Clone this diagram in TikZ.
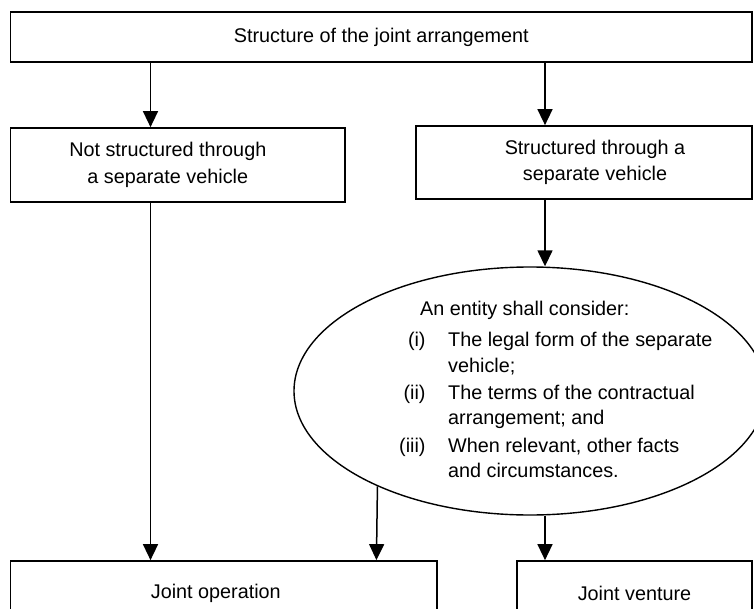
\documentclass[tikz,border=0pt]{standalone}
\usepackage{fontspec}
\setmainfont{Liberation Sans}
\usetikzlibrary{arrows.meta,shapes.geometric}
\begin{document}
\begin{tikzpicture}[x=1pt,y=-1pt,
  box/.style={draw, line width=1.7pt, rectangle, inner sep=0pt, align=center,
    font=\fontsize{19.8}{26.5}\selectfont},
  oval/.style={draw, ellipse, line width=1.4pt, inner sep=0pt},
  arr/.style={line width=1.5pt, -{Triangle[length=16pt,width=15pt]}},
  ]
\clip (0,0) rectangle (754,609);
\fill[white] (0,0) rectangle (754,609);

\node[box, minimum width=741.4pt, minimum height=50pt] (top) at (381.3,37)
  {Structure of the joint arrangement};
\node[box, minimum width=334.4pt, minimum height=74pt] (lbox) at (177.8,165)
  {\hspace*{-20pt}Not structured through\\\hspace*{-20pt}a separate vehicle};
\node[box, minimum width=336pt, minimum height=73pt] (rbox) at (584,162.5)
  {\hspace*{22pt}Structured through a\\\hspace*{22pt}separate vehicle};
\node[oval, minimum width=472pt, minimum height=248pt] (ell) at (530,391) {};
\node[anchor=base west, inner sep=0pt, font=\fontsize{19.8}{25}\selectfont] (crit) at (399,315)
  {\begin{tabular}[t]{@{}r@{\hspace{22.6pt}}l@{}}
   \multicolumn{2}{@{\hspace{21pt}}l@{}}{An entity shall consider:}\\[7pt]
   (i) & The legal form of the separate\\
       & vehicle;\\[2pt]
   (ii) & The terms of the contractual\\
       & arrangement; and\\[3pt]
   (iii) & When relevant, other facts\\
       & and circumstances.
   \end{tabular}};
\node[box, minimum width=426.4pt, minimum height=64pt] (jo) at (223.8,593)
  {\hspace*{-16pt}Joint operation};
\node[box, minimum width=235pt, minimum height=64pt] (jv) at (634.5,593)
  {Joint venture};

\coordinate (xl) at (150.5,0);
\coordinate (xr) at (545,0);

\draw[arr] (top.south -| xl) -- (lbox.north -| xl);
\draw[arr] (top.south -| xr) -- (rbox.north -| xr);
\draw[arr] (lbox.south -| xl) -- (jo.north -| xl);
\draw[arr] (rbox.south -| xr) -- (ell.north -| xr);
\draw[arr] (ell.south -| xr) -- (jv.north -| xr);
\draw[arr] (ell.212.3) -- ([xshift=-1pt]jo.north -| ell.212.3);
\end{tikzpicture}
\end{document}
